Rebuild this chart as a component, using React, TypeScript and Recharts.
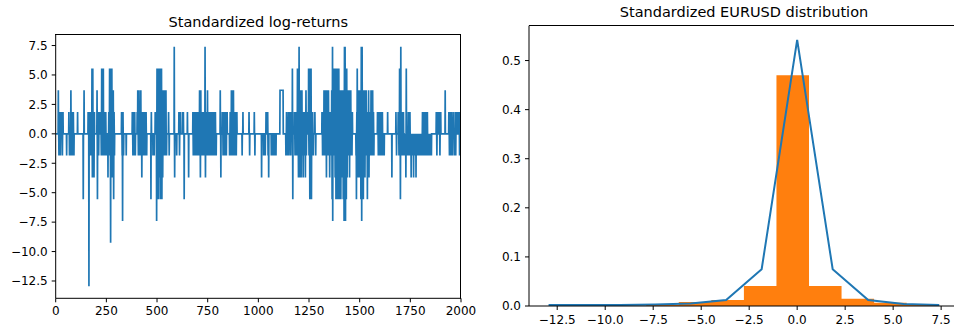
import { LineChart, Line, XAxis, YAxis, ComposedChart, Area } from 'recharts';

const FONT = '"DejaVu Sans", sans-serif';
const BLUE = '#1f77b4';
const ORANGE = '#ff7f0e';

// left panel: standardized log-returns (mostly zero, quantized jumps)
const returnCount = 2000;
const returnSpikes: [number, number][] = [
  [13, 3.7], [16, -1.85], [20, 1.85], [23, -1.85], [26, 1.85], [29, 1.85], [33, -1.85], [36, 1.85], [54, -1.85],
  [65, 1.85], [68, -1.85], [71, -1.85], [75, 3.7], [78, -1.85], [81, 1.85], [84, -1.85], [87, 1.85], [90, -1.85],
  [108, 1.85], [136, -5.55], [140, 3.7],
  [160, 1.85], [164, -12.95], [166, 1.85], [169, -1.85], [172, 1.85], [176, -1.85], [179, 5.55], [181, -3.7],
  [183, 5.55], [185, -3.7], [187, 1.85], [189, -3.7], [191, 1.85],
  [204, 3.7], [206, -5.55], [209, 1.85], [212, -1.85], [215, 1.85],
  [222, 1.85], [225, -1.85], [227, 5.55], [230, -1.85], [233, 1.85], [235, 5.55], [238, -1.85], [241, 1.85],
  [244, -1.85], [247, 1.85], [250, -1.85],
  [258, -3.7], [262, 1.85], [266, 5.55], [267, -1.85], [269, 5.55], [271, -9.25], [273, 5.55], [275, -1.85],
  [277, 5.55], [279, -3.7], [281, 1.85], [284, 3.7], [286, -5.55], [288, 1.85], [290, -1.85],
  [325, 1.85], [328, -1.85], [330, -7.4], [332, 1.85], [335, -1.85], [348, -1.85],
  [378, 1.85], [381, -1.85], [384, 1.85], [387, -1.85], [390, 1.85], [393, -1.85],
  [402, 1.85], [405, 3.7], [408, -1.85], [411, 3.7], [414, -1.85], [417, 1.85], [420, 3.7], [422, -1.85],
  [425, -3.7], [428, 1.85], [431, -1.85], [434, 1.85], [437, -1.85], [440, 1.85], [443, -1.85], [446, 1.85], [449, -1.85],
  [470, -5.55], [472, 1.85], [480, -1.85], [486, -1.85], [491, 1.85],
  [496, 1.85], [498, -7.4], [500, 5.55], [502, -1.85], [504, 5.55], [506, -5.55], [508, 1.85], [510, 5.55],
  [512, -3.7], [514, 3.7], [516, -5.55], [518, 5.55], [520, -1.85], [522, 5.55], [524, -5.55], [526, 3.7],
  [528, -3.7], [530, 1.85], [532, -1.85], [534, 3.7], [536, -1.85], [538, 3.7], [540, 1.85], [542, -1.85],
  [544, 3.7], [547, -1.85], [557, 1.85], [560, -1.85],
  [585, 7.4], [587, -3.7], [597, -1.85], [608, 1.85], [611, -1.85], [614, 1.85],
  [625, 1.85], [630, 1.85], [634, -5.55], [650, 1.85], [656, -3.7],
  [677, 1.85], [679, -1.85], [681, 1.85], [683, -1.85], [685, 1.85], [687, -1.85], [689, 1.85], [691, -1.85],
  [693, 1.85], [695, -1.85], [697, 1.85], [699, -1.85], [701, 1.85], [704, -1.85], [707, 1.85], [710, 3.7],
  [712, -1.85], [714, -3.7], [716, 3.7], [718, 1.85], [720, -1.85], [723, 1.85], [726, -1.85], [729, 1.85],
  [732, -1.85], [735, 1.85], [737, 7.4], [739, -3.7], [741, 1.85], [743, -1.85], [745, 1.85], [747, -1.85],
  [749, 3.7], [751, -1.85], [754, 1.85], [757, -1.85], [760, 1.85], [763, -1.85], [766, 1.85], [769, -1.85],
  [772, 1.85], [776, -1.85], [780, 1.85], [784, -1.85], [788, 1.85], [792, -1.85],
  [812, 3.7], [815, -3.7], [822, 1.85], [826, -1.85], [830, 1.85], [834, -1.85], [838, 1.85], [842, -1.85], [846, 1.85],
  [858, -1.85], [861, 1.85], [864, -1.85], [867, 3.7], [869, -1.85], [871, 3.7], [873, 1.85], [875, -1.85],
  [877, 3.7], [879, -1.85], [882, 1.85], [885, -1.85], [888, 1.85], [891, -1.85], [894, 1.85],
  [920, -1.85], [924, 1.85], [954, 1.85], [957, -1.85], [980, 1.85], [983, -1.85],
  [1016, -3.7], [1026, -1.85], [1034, -1.85], [1038, 1.85], [1040, 1.85], [1043, 1.85], [1046, 1.85], [1048, -1.85],
  [1051, -3.7], [1064, -1.85], [1070, -1.85], [1075, -1.85], [1080, -1.85], [1087, -1.85],
  [1107, 3.7], [1108, 3.7], [1109, 3.7], [1110, 3.7], [1111, 3.7], [1112, 3.7], [1113, 3.7], [1114, 3.7],
  [1115, 3.7], [1116, 3.7], [1117, 3.7], [1118, 3.7], [1119, 3.7], [1120, 3.7], [1121, 3.7], [1122, 3.7],
  [1136, -1.85], [1139, 1.85], [1142, -1.85], [1145, -1.85], [1148, 1.85], [1151, -1.85], [1154, 1.85],
  [1157, 1.85], [1160, -1.85], [1163, 1.85], [1168, 5.55], [1170, -5.55],
  [1178, 1.85], [1181, -1.85], [1184, 1.85], [1187, -1.85], [1190, 1.85],
  [1193, 5.55], [1195, -1.85], [1198, -3.7], [1201, 7.4], [1203, -3.7], [1205, 1.85], [1207, -1.85], [1209, 3.7],
  [1211, -3.7], [1213, 1.85], [1215, 3.7], [1217, -1.85], [1219, 1.85], [1221, -3.7], [1223, 1.85], [1226, -1.85],
  [1229, 1.85], [1232, -3.7], [1235, 3.7], [1237, -1.85], [1240, 1.85],
  [1245, 1.85], [1248, 5.55], [1250, -1.85], [1252, 5.55], [1254, -5.55], [1256, 5.55], [1258, -3.7], [1260, 5.55],
  [1262, -5.55], [1264, 1.85], [1266, -1.85], [1268, 1.85], [1271, -1.85], [1279, 1.85], [1283, -1.85],
  [1314, 1.85], [1317, -1.85], [1320, 1.85], [1322, -1.85], [1324, 3.7], [1326, -1.85], [1328, 3.7], [1330, 1.85],
  [1332, -1.85], [1334, 3.7], [1336, -3.7], [1338, 3.7], [1340, -1.85], [1342, 1.85], [1344, -1.85], [1346, 3.7],
  [1348, -1.85], [1350, 1.85], [1352, -3.7], [1354, 1.85], [1356, -1.85],
  [1358, 1.85], [1360, -1.85], [1362, 3.7], [1364, -5.55], [1366, 7.4], [1367, -7.4], [1369, 1.85], [1371, -1.85],
  [1373, 5.55], [1375, -1.85], [1377, 3.7], [1379, -3.7], [1381, 5.55], [1383, -5.55], [1385, 1.85], [1387, -3.7],
  [1389, 5.55], [1391, -5.55], [1393, 3.7], [1395, -3.7], [1397, 5.55], [1399, -5.55], [1401, 1.85], [1403, -3.7],
  [1405, 3.7], [1407, -5.55], [1409, 1.85], [1411, -1.85], [1413, 3.7], [1415, -3.7], [1417, 1.85], [1419, -5.55],
  [1421, 3.7], [1423, -7.4], [1425, 7.4], [1426, -7.4], [1428, 7.4], [1430, -7.4], [1432, 3.7], [1434, -5.55],
  [1436, 5.55], [1438, -3.7], [1440, 3.7], [1442, -1.85], [1444, 3.7], [1446, -1.85], [1448, 3.7], [1450, -3.7],
  [1452, 1.85], [1454, -1.85], [1456, 3.7], [1458, -1.85], [1460, 1.85], [1462, -1.85], [1464, 1.85],
  [1482, -1.85], [1484, -5.55], [1486, 1.85], [1488, 5.55], [1490, -3.7], [1492, 1.85], [1494, -3.7], [1496, 3.7],
  [1498, -1.85], [1500, 1.85], [1502, -3.7], [1504, 3.7], [1506, -5.55], [1508, 7.4], [1510, -7.4], [1512, 7.4],
  [1514, -3.7], [1516, 1.85], [1518, -5.55], [1520, 3.7], [1522, -1.85], [1524, 3.7], [1526, -3.7], [1528, 1.85],
  [1530, -1.85], [1532, 3.7], [1534, -1.85], [1536, 1.85], [1538, -5.55], [1540, 1.85], [1542, -1.85], [1544, 3.7],
  [1546, -3.7], [1548, 1.85], [1550, -1.85], [1552, 1.85], [1554, -1.85], [1556, 3.7], [1558, -1.85], [1560, 1.85],
  [1562, -1.85], [1564, 3.7], [1566, -1.85], [1568, 1.85], [1570, -1.85],
  [1588, 1.85], [1592, -1.85], [1596, 1.85], [1600, -1.85], [1604, 1.85], [1608, -1.85], [1612, 1.85], [1616, -1.85],
  [1621, -1.85], [1638, 1.85], [1659, -3.7], [1679, 1.85], [1682, -1.85],
  [1690, 1.85], [1694, -1.85], [1697, 5.55], [1699, -1.85], [1701, -5.55], [1703, 7.4], [1705, -1.85], [1708, 1.85],
  [1712, -1.85], [1716, 1.85], [1720, -1.85], [1722, -1.85], [1724, -1.85], [1726, -1.85], [1728, -3.7], [1730, 5.55],
  [1732, -1.85], [1734, -1.85], [1736, -1.85], [1738, -1.85], [1740, 1.85], [1742, -1.85], [1744, 1.85], [1746, -1.85],
  [1748, 1.85], [1750, -1.85], [1752, -1.85], [1754, -3.7], [1756, -1.85], [1758, -1.85], [1760, -1.85], [1762, -1.85],
  [1764, -1.85], [1766, -3.7], [1768, -1.85], [1770, -1.85], [1772, -1.85], [1774, -1.85], [1776, -1.85], [1778, -3.7],
  [1780, -1.85], [1782, -1.85], [1784, -1.85], [1786, -1.85], [1788, -1.85], [1790, -1.85], [1792, -1.85], [1794, -1.85],
  [1796, -1.85], [1798, -1.85], [1800, -1.85], [1802, -1.85], [1804, -1.85], [1806, -1.85], [1808, -1.85], [1810, 1.85],
  [1812, -1.85], [1814, 1.85], [1816, -1.85], [1818, 1.85], [1820, -1.85], [1822, 1.85], [1824, -1.85], [1826, 1.85],
  [1828, -1.85], [1830, 1.85], [1832, -1.85], [1834, 1.85], [1836, -1.85], [1838, -1.85], [1840, -1.85], [1842, -1.85],
  [1844, -1.85], [1846, -1.85], [1848, -1.85], [1850, -1.85], [1852, -1.85], [1854, -1.85],
  [1878, 1.85], [1881, -1.85], [1884, 1.85], [1888, 1.85], [1892, 1.85], [1896, -1.85], [1900, 1.85], [1922, 3.7],
  [1940, 1.85], [1943, -1.85], [1946, 1.85], [1949, -1.85], [1952, 1.85], [1955, -1.85], [1958, -1.85], [1961, 1.85],
  [1968, -1.85], [1971, 1.85], [1974, -1.85], [1977, 1.85], [1981, 1.85], [1985, 1.85], [1989, 1.85], [1993, -1.85],
  [1996, 1.85], [1998, -1.85],
];
const timeTicks = [0, 250, 500, 750, 1000, 1250, 1500, 1750, 2000];
const returnTicks = [-12.5, -10, -7.5, -5, -2.5, 0, 2.5, 5, 7.5];

// right panel: histogram (density) + pmf line
const binEdges = [-12.95, -11.254, -9.558, -7.862, -6.167, -4.471, -2.775, -1.079, 0.617, 2.312, 4.008, 5.704, 7.4];
const binDensity = [0.0003, 0, 0.0003, 0.0024, 0.0081, 0.0122, 0.0407, 0.47, 0.0407, 0.015, 0.0065, 0.0024];
const pmfX = [-12.95, -11.1, -9.25, -7.4, -5.55, -3.7, -1.85, 0, 1.85, 3.7, 5.55, 7.4];
const pmfY = [0.002, 0.002, 0.002, 0.003, 0.005, 0.012, 0.075, 0.542, 0.075, 0.012, 0.004, 0.002];
const distXTicks = [-12.5, -10, -7.5, -5, -2.5, 0, 2.5, 5, 7.5];
const distYTicks = [0, 0.1, 0.2, 0.3, 0.4, 0.5];

const returnData = Array.from({ length: returnCount }, (_, i) => ({ i, v: 0 }));
returnSpikes.forEach(([i, v]) => {
  returnData[i].v = v;
});

const histData = binEdges.map((x, k) => ({ x, d: binDensity[Math.min(k, binDensity.length - 1)] }));
const pmfData = pmfX.map((x, k) => ({ x, p: pmfY[k] }));

const fmt = (v: number) => v.toFixed(1).replace('-', '\u2212');
const tickStyle = { fill: '#000', fontSize: 12, fontFamily: FONT };
const axisStroke = { stroke: '#000', strokeWidth: 1 };

const titleStyle = (left: number, top: number): React.CSSProperties => ({
  position: 'absolute',
  left,
  top,
  width: 480,
  textAlign: 'center',
  fontFamily: FONT,
  fontSize: 14.5,
  lineHeight: '14.5px',
  color: '#000',
  whiteSpace: 'nowrap',
});

// top / right spines, matplotlib style
const frame = (left: number, top: number, width: number, height: number): React.CSSProperties => ({
  position: 'absolute',
  left,
  top,
  width,
  height,
  boxSizing: 'border-box',
  borderTop: '1px solid #000',
  borderRight: '1px solid #000',
  pointerEvents: 'none',
});

export default function App() {
  return (
    <div style={{ position: 'absolute', left: 0, top: 0, width: 954, height: 331, overflow: 'hidden', background: '#fff' }}>
      <div style={titleStyle(18.3, 15.3)}>Standardized log-returns</div>
      <div style={{ position: 'absolute', left: 0, top: 0 }}>
        <LineChart width={480} height={331} data={returnData} margin={{ top: 34.7, right: 19, bottom: 7.7, left: 0 }}>
          <XAxis
            dataKey="i"
            type="number"
            domain={[0, 2000]}
            ticks={timeTicks}
            height={25}
            tickSize={4}
            tickMargin={4}
            tick={tickStyle}
            axisLine={axisStroke}
            tickLine={axisStroke}
            allowDataOverflow
          />
          <YAxis
            type="number"
            domain={[-13.97, 8.42]}
            ticks={returnTicks}
            width={55.7}
            tickSize={4}
            tickMargin={4}
            tick={tickStyle}
            tickFormatter={fmt}
            axisLine={axisStroke}
            tickLine={axisStroke}
            allowDataOverflow
          />
          <Line type="linear" dataKey="v" stroke={BLUE} strokeWidth={1.7} dot={false} isAnimationActive={false} />
        </LineChart>
      </div>
      <div style={frame(55.2, 34.2, 406.3, 264.6)} />

      <div style={titleStyle(504, 4.8)}>Standardized EURUSD distribution</div>
      <div style={{ position: 'absolute', left: 480, top: 0 }}>
        <ComposedChart width={480} height={331} data={histData} margin={{ top: 25.7, right: 1.2, bottom: 0, left: 0 }}>
          <XAxis
            dataKey="x"
            type="number"
            domain={[-13.97, 8.42]}
            ticks={distXTicks}
            tickFormatter={fmt}
            height={25}
            tickSize={4}
            tickMargin={5}
            tick={tickStyle}
            axisLine={axisStroke}
            tickLine={axisStroke}
            allowDataOverflow
          />
          <YAxis
            type="number"
            domain={[0, 0.571]}
            ticks={distYTicks}
            tickFormatter={fmt}
            width={49}
            tickSize={4}
            tickMargin={4}
            tick={tickStyle}
            axisLine={axisStroke}
            tickLine={axisStroke}
            allowDataOverflow
          />
          <Area type="stepAfter" dataKey="d" fill={ORANGE} fillOpacity={1} stroke="none" isAnimationActive={false} />
          <Line data={pmfData} type="linear" dataKey="p" stroke={BLUE} strokeWidth={2} dot={false} isAnimationActive={false} />
        </ComposedChart>
      </div>
      <div style={frame(528.5, 25.2, 440, 281)} />
    </div>
  );
}
